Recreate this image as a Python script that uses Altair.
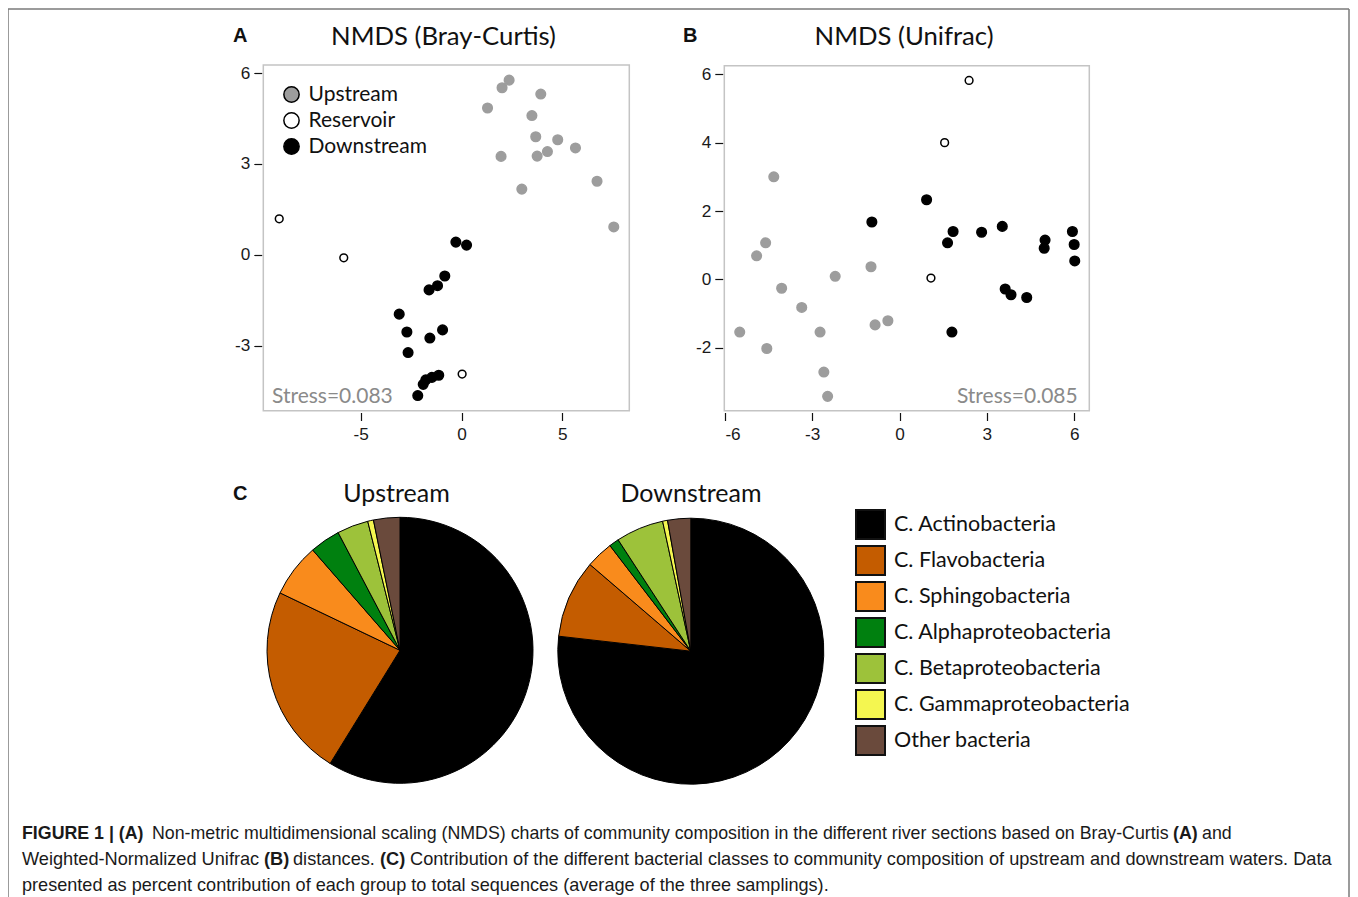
import altair as alt
import pandas as pd

W, H = 1342, 889

# ---------------- data ----------------
groups = ["Upstream", "Reservoir", "Downstream"]
group_fill = ["#9d9d9d", "#ffffff", "#000000"]

# Panel A: NMDS (Bray-Curtis)
up_a_x = [1.29, 2.01, 2.36, 3.93, 3.49, 3.68, 4.77, 5.65, 4.26, 3.75, 1.96, 2.99, 6.72, 7.55]
up_a_y = [4.85, 5.52, 5.77, 5.31, 4.60, 3.90, 3.80, 3.53, 3.41, 3.26, 3.25, 2.17, 2.43, 0.92]
res_a_x = [-9.04, -5.84, 0.03]
res_a_y = [1.19, -0.10, -3.94]
down_a_x = [-0.28, 0.25, -0.83, -1.19, -1.61, -3.09, -2.71, -0.94, -1.57, -2.65, -1.13, -1.47, -1.77, -1.90, -2.17]
down_a_y = [0.42, 0.32, -0.70, -1.02, -1.16, -1.96, -2.55, -2.48, -2.75, -3.23, -3.98, -4.05, -4.13, -4.28, -4.65]

# Panel B: NMDS (Unifrac)
up_b_x = [-4.32, -4.60, -4.91, -4.05, -3.36, -5.49, -4.56, -2.73, -2.60, -2.47, -2.21, -0.98, -0.84, -0.40]
up_b_y = [3.00, 1.07, 0.69, -0.26, -0.82, -1.54, -2.02, -1.54, -2.71, -3.42, 0.09, 0.37, -1.33, -1.21]
res_b_x = [2.39, 1.55, 1.08]
res_b_y = [5.82, 4.00, 0.04]
down_b_x = [0.93, -0.95, 1.84, 1.65, 2.82, 3.53, 5.00, 4.97, 5.94, 6.00, 6.02, 3.63, 3.83, 4.37, 1.80]
down_b_y = [2.33, 1.68, 1.40, 1.07, 1.38, 1.55, 1.15, 0.91, 1.40, 1.02, 0.54, -0.28, -0.45, -0.53, -1.54]

a_x_ticks = [-5, 0, 5]
a_y_ticks = [-3, 0, 3, 6]
b_x_ticks = [-6, -3, 0, 3, 6]
b_y_ticks = [-2, 0, 2, 4, 6]
a_domain_x = [-9.83, 8.32]
a_domain_y = [-5.15, 6.27]
b_domain_x = [-6.02, 6.52]
b_domain_y = [-3.84, 6.25]

# Panel C: pies
classes = ["C. Actinobacteria", "C. Flavobacteria", "C. Sphingobacteria",
           "C. Alphaproteobacteria", "C. Betaproteobacteria",
           "C. Gammaproteobacteria", "Other bacteria"]
class_colors = ["#000000", "#c45c00", "#f98b1c", "#00800f", "#9dc23a", "#f4f650", "#6a4a3c"]
sections = ["Upstream", "Downstream"]
upstream_pct = [58.8, 23.3, 6.5, 3.7, 3.8, 0.7, 3.2]
downstream_pct = [76.8, 9.5, 3.3, 1.2, 5.8, 0.6, 2.8]

titles = ["NMDS (Bray-Curtis)", "NMDS (Unifrac)"]
stress = ["Stress=0.083", "Stress=0.085"]
letters = ["A", "B", "C"]

caption = [
    [("FIGURE 1 | (A)", "bold"),
     ("Non-metric multidimensional scaling (NMDS) charts of community composition in the different river sections based on Bray-Curtis", "normal"),
     ("(A)", "bold"), ("and", "normal")],
    [("Weighted-Normalized Unifrac", "normal"), ("(B)", "bold"), ("distances.", "normal"),
     ("(C)", "bold"),
     ("Contribution of the different bacterial classes to community composition of upstream and downstream waters. Data", "normal")],
    [("presented as percent contribution of each group to total sequences (average of the three samplings).", "normal")],
]
caption_x = [[14, 144, 1165, 1194], [14, 256, 285, 372, 402], [14]]
caption_y = [830.5, 856.5, 882.5]
caption_size = [17.8, 18.2, 18.1]

# ---------------- helpers ----------------
def nmds_df(ux, uy, rx, ry, dx, dy):
    return pd.DataFrame({
        "x": ux + rx + dx,
        "y": uy + ry + dy,
        "group": ["Upstream"] * len(ux) + ["Reservoir"] * len(rx) + ["Downstream"] * len(dx),
    })


def axis(orient, offset, values):
    return alt.Axis(orient=orient, offset=offset, values=values, domain=False, grid=False,
                    ticks=True, tickColor="#111", tickSize=8, tickWidth=1.2,
                    labelFont="Liberation Sans", labelFontSize=17.2, labelColor="#1a1a1a",
                    labelPadding=5 if orient == "bottom" else 4,
                    labelExpr="toString(datum.value)", title=None)


def panel(df, dom_x, dom_y, rng_x, rng_y, xticks, yticks, left_off, bottom_off, legend):
    xs = alt.Scale(domain=dom_x, range=rng_x, nice=False, zero=False)
    ys = alt.Scale(domain=dom_y, range=rng_y, nice=False, zero=False)
    frame = alt.Chart(pd.DataFrame({"x0": [dom_x[0]], "x1": [dom_x[1]],
                                    "y0": [dom_y[0]], "y1": [dom_y[1]]})).mark_rect(
        filled=False, stroke="#c4c4c4", strokeWidth=1.5).encode(
        x=alt.X("x0:Q", scale=xs, axis=axis("bottom", bottom_off, xticks)),
        x2="x1:Q",
        y=alt.Y("y0:Q", scale=ys, axis=axis("left", left_off, yticks)),
        y2="y1:Q",
    )
    pts = alt.Chart(df).mark_circle(opacity=1).encode(
        x=alt.X("x:Q", scale=xs, axis=axis("bottom", bottom_off, xticks)),
        y=alt.Y("y:Q", scale=ys, axis=axis("left", left_off, yticks)),
        fill=alt.Fill("group:N", scale=alt.Scale(domain=groups, range=group_fill), legend=legend),
        stroke=alt.condition(alt.datum.group == "Upstream", alt.value("#9d9d9d"), alt.value("#000000")),
        size=alt.condition(alt.datum.group == "Reservoir", alt.value(60), alt.value(92)),
        strokeWidth=alt.value(1.5),
    )
    return alt.layer(frame, pts)


def text(t, x, y, size, font="Lato", weight="normal", color="#111111", align="left"):
    return alt.Chart(pd.DataFrame({"t": [t]})).mark_text(
        font=font, fontSize=size, fontWeight=weight, color=color, align=align,
        baseline="alphabetic").encode(text="t:N", x=alt.value(x), y=alt.value(y))


# ---------------- panels A and B ----------------
df_a = nmds_df(up_a_x, up_a_y, res_a_x, res_a_y, down_a_x, down_a_y)
df_b = nmds_df(up_b_x, up_b_y, res_b_x, res_b_y, down_b_x, down_b_y)

legend_a = alt.Legend(orient="none", legendX=273, legendY=76, title=None, padding=0,
                      symbolType="circle", symbolSize=234, symbolStrokeColor="#000000",
                      symbolStrokeWidth=1.5, labelFont="Lato", labelFontSize=21,
                      labelColor="#111111", labelOffset=6.5, rowPadding=3)

panel_a = panel(df_a, a_domain_x, a_domain_y, [255.3, 621.3], [402.7, 57.0],
                a_x_ticks, a_y_ticks, -253.8, -484.5, legend_a)
panel_b = panel(df_b, b_domain_x, b_domain_y, [716.3, 1081.3], [402.7, 57.7],
                b_x_ticks, b_y_ticks, -714.8, -484.5, None)

# ---------------- panel C: pies ----------------
pie_df = pd.DataFrame({
    "section": [sections[0]] * len(classes) + [sections[1]] * len(classes),
    "cls": classes + classes,
    "pct": upstream_pct + downstream_pct,
    "order": list(range(len(classes))) * 2,
})
color_scale = alt.Scale(domain=classes, range=class_colors)
pie_legend = alt.Legend(orient="none", legendX=847, legendY=501, title=None, padding=0,
                        symbolType="square", symbolSize=841, symbolStrokeColor="#111111",
                        symbolStrokeWidth=2, labelFont="Lato", labelFontSize=21.5,
                        labelColor="#111111", labelOffset=8, rowPadding=-1, labelLimit=400)


def pie(section, cx, cy):
    return alt.Chart(pie_df).transform_filter(alt.datum.section == section).mark_arc(
        radius=133, stroke="#000000", strokeWidth=1).encode(
        theta=alt.Theta("pct:Q", stack=True),
        color=alt.Color("cls:N", scale=color_scale, legend=pie_legend),
        order=alt.Order("order:Q", sort="ascending"),
        x=alt.value(cx), y=alt.value(cy),
    )


pies = alt.layer(pie(sections[0], 392.0, 642.3), pie(sections[1], 682.8, 643.2)).resolve_scale(theta="independent")

# ---------------- texts ----------------
texts = [
    text(letters[0], 225, 34, 20, font="Liberation Sans", weight="bold"),
    text(letters[1], 675, 34, 20, font="Liberation Sans", weight="bold"),
    text(letters[2], 225, 492, 20, font="Liberation Sans", weight="bold"),
    text(titles[0], 435.5, 37, 25.7, align="center"),
    text(titles[1], 896, 37, 25.7, align="center"),
    text(sections[0], 388.5, 493.7, 25, align="center"),
    text(sections[1], 683, 493.7, 25, align="center"),
    text(stress[0], 264, 395.3, 21, color="#8a8a8a"),
    text(stress[1], 1069.7, 395.3, 21, color="#8a8a8a", align="right"),
]
for line, xs, y, fs in zip(caption, caption_x, caption_y, caption_size):
    for (seg, wt), x in zip(line, xs):
        texts.append(text(seg, x, y, fs, font="Liberation Sans", weight=wt, color="#1a1a1a"))

# outer frame (left, top, right)
frame_df = pd.DataFrame({"k": [0]})
frame_rules = [
    alt.Chart(frame_df).mark_rule(color="#7a7a7a", strokeWidth=1.5).encode(
        x=alt.value(0), y=alt.value(1), y2=alt.value(H)),
    alt.Chart(frame_df).mark_rule(color="#7a7a7a", strokeWidth=1.5).encode(
        x=alt.value(0), x2=alt.value(W - 1), y=alt.value(1)),
    alt.Chart(frame_df).mark_rule(color="#7a7a7a", strokeWidth=1.5).encode(
        x=alt.value(W - 1), y=alt.value(1), y2=alt.value(H)),
]

chart = alt.layer(panel_a, panel_b, pies, *texts, *frame_rules).resolve_scale(
    x="independent", y="independent", fill="independent", color="independent",
    theta="independent", stroke="independent", size="independent"
).resolve_axis(x="independent", y="independent").resolve_legend(
    fill="independent", color="independent"
).properties(
    width=W, height=H, padding=0, autosize=alt.AutoSizeParams(type="none"), background="white"
).configure_view(stroke=None)

chart.save("out.html", embed_options={"renderer": "svg", "actions": False})
